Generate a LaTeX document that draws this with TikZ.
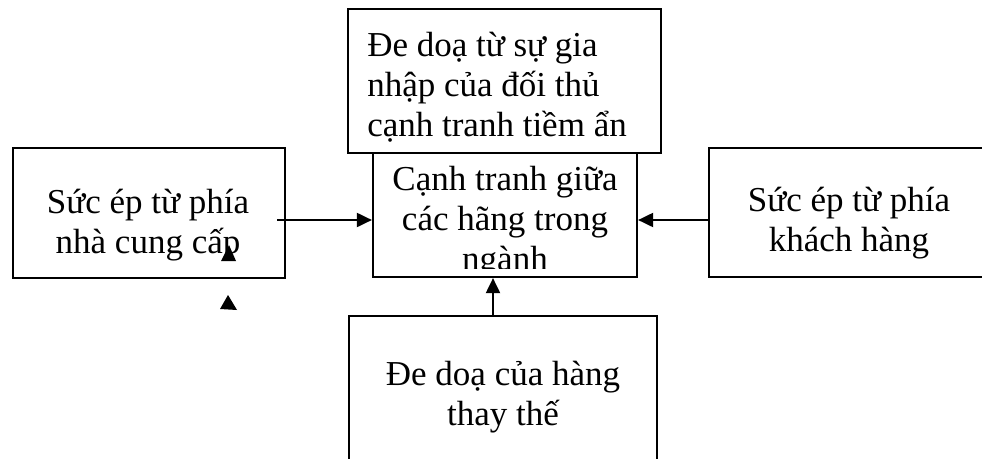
\documentclass[tikz,border=0pt]{standalone}
\usepackage{fontspec}
\setmainfont{Liberation Serif}
\usetikzlibrary{arrows.meta}
\tikzstyle{box} = [rectangle, draw=black, line width=2.2pt, inner sep=0pt]
\tikzstyle{txt} = [align=center, font=\fontsize{35}{40}\selectfont, inner sep=0pt]
\tikzstyle{tedge} = [draw, line width=2pt, -{Triangle[length=15pt,width=14pt]}]

\begin{document}
\begin{tikzpicture}[x=1pt, y=-1pt]
\clip (0,0) rectangle (982,458);

% boxes =============================
\node[box, minimum width=313pt, minimum height=144pt] (entry) at (504.5,81) {};
\node[box, minimum width=264pt, minimum height=124pt] (rivalry) at (505,215) {};
\node[box, minimum width=272pt, minimum height=130pt] (supplier) at (149,213) {};
\node[box, minimum width=280pt, minimum height=129pt] (buyer) at (849,212.5) {};
\node[box, minimum width=308pt, minimum height=162pt] (substitute) at (503,397) {};

% texts
\node[txt, align=left] (entrytxt) at (497,87) {Đe doạ từ sự gia\\nhập của đối thủ\\cạnh tranh tiềm ẩn};
\begin{scope}
\clip (373,153) rectangle (637,268);
\node[txt] (rivalrytxt) at (505,222) {Cạnh tranh giữa\\các hãng trong\\ngành};
\end{scope}
\node[txt] (suppliertxt) at (148,225) {Sức ép từ phía\\nhà cung cấp};
\node[txt] (buyertxt) at (849,223) {Sức ép từ phía\\khách hàng};
\node[txt] (substitutetxt) at (503,397) {Đe doạ của hàng\\thay thế};

% edges
\coordinate (supplierout) at (277,220);
\coordinate (buyerout) at (709,220);
\coordinate (substituteout) at (493,316);
\path[tedge] (supplierout) -- (supplierout -| rivalry.west);
\path[tedge] (buyerout) -- (buyerout -| rivalry.east);
\path[tedge] (substituteout) -- (substituteout |- rivalry.south);

% loose arrow tips
\fill (229,245) -- (236,261) -- (221,261) -- cycle;
\fill (228,295) -- (237,310) -- (220,309) -- cycle;

\end{tikzpicture}
\end{document}
